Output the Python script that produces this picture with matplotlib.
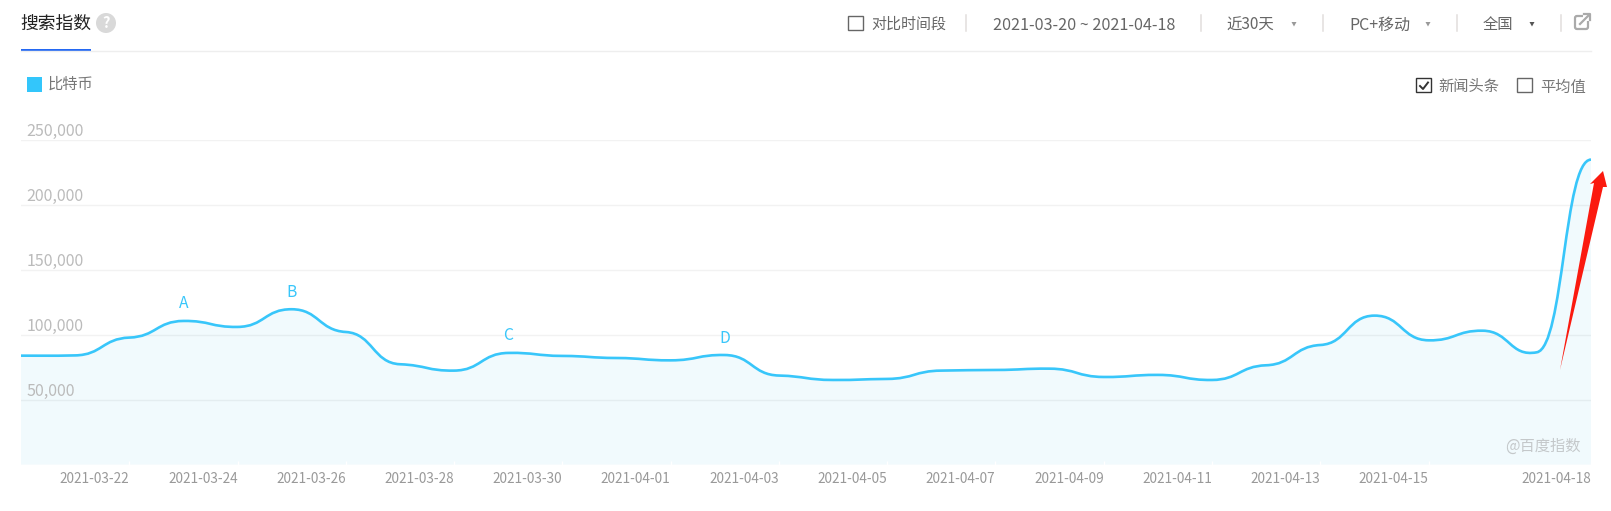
import numpy as np
import matplotlib
matplotlib.use('Agg')
import matplotlib.pyplot as plt
from matplotlib.path import Path
from matplotlib.patches import PathPatch, Rectangle, Polygon, Circle, FancyBboxPatch

plt.rcParams['font.family'] = ['Noto Sans CJK SC', 'DejaVu Sans']

# daily search index, 2021-03-20 to 2021-04-18
days = ['03-20', '03-21', '03-22', '03-23', '03-24', '03-25', '03-26', '03-27', '03-28', '03-29',
        '03-30', '03-31', '04-01', '04-02', '04-03', '04-04', '04-05', '04-06', '04-07', '04-08',
        '04-09', '04-10', '04-11', '04-12', '04-13', '04-14', '04-15', '04-16', '04-17', '04-18']
values = [83800, 84000, 97700, 110500, 105900, 119500, 102000, 77200, 72300, 85900,
          83600, 82000, 80200, 84300, 68500, 65100, 65900, 72300, 72800, 73800,
          67400, 69000, 65100, 76400, 92000, 114600, 95600, 103000, 86400, 234600]

y_ticks = [50000, 100000, 150000, 200000, 250000]
x_tick_days = ['03-22', '03-24', '03-26', '03-28', '03-30', '04-01', '04-03',
               '04-05', '04-07', '04-09', '04-11', '04-13', '04-15', '04-18']
news_days = ['03-23', '03-25', '03-29', '04-02']
news_labels = ['A', 'B', 'C', 'D']

W, H = 1611, 511
LINE = '#38c6fa'
FILL = '#f1fafd'

fig = plt.figure(figsize=(W / 100, H / 100), dpi=100, facecolor='white')

# plot area: 21..1591 across, 139.5..465 down (pixels)
ax = fig.add_axes([21 / W, 1 - 464.6 / H, 1570 / W, 325 / H])

x = np.arange(len(days))
y = np.array(values, dtype=float)


def smooth_path(x, y, handle=0.5, slope=0.12):
    # cubic segments that almost level out at every point, like the site's curve
    grad = np.gradient(y, x) * slope
    grad[0] = grad[-1] = 0
    verts = [(x[0], y[0])]
    codes = [Path.MOVETO]
    for i in range(len(x) - 1):
        dx = x[i + 1] - x[i]
        verts += [(x[i] + dx * handle, y[i] + grad[i] * dx * handle),
                  (x[i + 1] - dx * handle, y[i + 1] - grad[i + 1] * dx * handle),
                  (x[i + 1], y[i + 1])]
        codes += [Path.CURVE4] * 3
    return verts, codes


verts, codes = smooth_path(x, y)
area = Path(verts + [(x[-1], 0), (x[0], 0), (x[0], y[0])],
            codes + [Path.LINETO, Path.LINETO, Path.LINETO])
ax.add_patch(PathPatch(area, facecolor=FILL, edgecolor='none', zorder=1))
ax.add_patch(PathPatch(Path(verts, codes), facecolor='none', edgecolor=LINE, lw=1.9, zorder=3))

ax.set_xlim(0, len(days) - 1)
ax.set_ylim(0, 250000)
for s in ax.spines.values():
    s.set_visible(False)
ax.set_axisbelow(False)

ax.set_yticks(y_ticks)
ax.set_yticklabels([f'{v:,}' for v in y_ticks], fontsize=11.5, color='#bbbbbb', ha='left', va='bottom')
ax.tick_params(axis='y', length=0, pad=-4)
ax.yaxis.grid(True, color='black', alpha=0.05, lw=1)

ax.set_xticks([days.index(d) for d in x_tick_days])
ax.set_xticklabels(['2021-' + d for d in x_tick_days], fontsize=9.8, color='#999999', ha='right')
ax.tick_params(axis='x', direction='in', length=3, width=1, color='white', pad=5.5)

for d, name in zip(news_days, news_labels):
    i = days.index(d)
    ax.annotate(name, (i, values[i]), xytext=(0, 17), textcoords='offset pixels',
                ha='center', va='center', fontsize=11.3, color=LINE, zorder=4)

# everything around the plot is page chrome, placed in pixels on a full-figure overlay
ui = fig.add_axes([0, 0, 1, 1], facecolor='none')
ui.set_xlim(0, W)
ui.set_ylim(H, 0)
ui.axis('off')


def label(px, py, s, size=10.8, color='#666666', ha='left'):
    ui.text(px, py, s, fontsize=size, color=color, ha=ha, va='center')


def checkbox(px, py, edge='#666666'):
    ui.add_patch(Rectangle((px, py), 14.5, 14.5, facecolor='white', edgecolor=edge, lw=1))


# title row
label(20, 24, '搜索指数', size=12.8, color='#222222')
ui.add_patch(Circle((106, 23), 10, facecolor='#d9d9d9', edgecolor='none'))
ui.text(106, 23, '?', fontsize=10.5, color='white', ha='center', va='center', fontweight='bold')
ui.plot([21, 1591], [51.5, 51.5], color='#eeeeee', lw=1)
ui.add_patch(Rectangle((21, 49), 70, 2, facecolor='#2468f2', edgecolor='none'))

checkbox(848, 16)
label(871, 25, '对比时间段')
label(993, 25, '2021-03-20 ~ 2021-04-18', size=11.7)
label(1226, 25, '近30天', size=11.1)
label(1349, 25, 'PC+移动', size=11.5)
label(1483, 25, '全国', size=11)

for sx in [966, 1201, 1323, 1457, 1561]:
    ui.plot([sx, sx], [15, 31], color='#e2dedc', lw=1.1)

for tx, tc in [(1294, '#999999'), (1428, '#999999'), (1532, '#555555')]:
    ui.add_patch(Polygon([(tx - 2.5, 22), (tx + 2.5, 22), (tx, 26.5)], facecolor=tc, edgecolor='none'))

# share icon
ui.add_patch(FancyBboxPatch((1575, 16), 13, 13, boxstyle='round,pad=0,rounding_size=2',
                            facecolor='none', edgecolor='#aaaaaa', lw=1.6))
ui.add_patch(Rectangle((1583, 13), 8, 8, facecolor='white', edgecolor='none'))
ui.plot([1580, 1589], [24, 15], color='#aaaaaa', lw=1.6)
ui.plot([1584, 1590, 1590], [14.5, 14.5, 20.5], color='#aaaaaa', lw=1.6)

# legend row
ui.add_patch(Rectangle((27, 77), 15, 15, facecolor='#33c6fb', edgecolor='none'))
label(48, 84.5, '比特币', size=11, color='#777777')

checkbox(1416, 78, edge='#333333')
ui.plot([1420, 1423, 1428], [86, 89, 82.5], color='#333333', lw=1.4)
label(1438, 87, '新闻头条', size=11, color='#777777')
checkbox(1517, 78)
label(1540, 87, '平均值', size=11, color='#777777')

label(1581, 446, '@百度指数', size=11, color='#c4c8ca', ha='right')

# red arrow pasted over the screenshot
ui.add_patch(Polygon([(1560, 370), (1594, 183), (1590, 184), (1603, 171), (1607, 187), (1603, 187)],
                     facecolor='#fb1a0f', edgecolor='none', zorder=5))

fig.savefig('out.png', dpi=100)
